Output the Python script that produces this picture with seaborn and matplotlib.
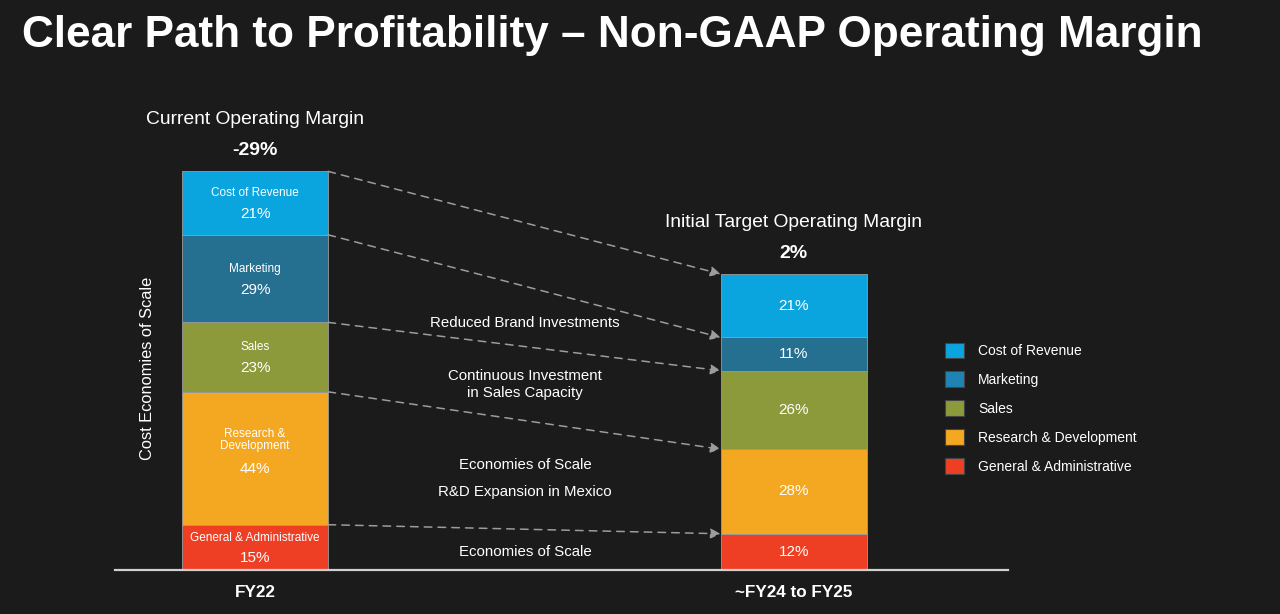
import matplotlib
matplotlib.use("Agg")
import matplotlib.pyplot as plt
from matplotlib.patches import Patch
import seaborn as sns
import pandas as pd
import numpy as np

# Chart data
periods = ["FY22", "~FY24 to FY25"]
categories = ["General & Administrative", "Research & Development", "Sales", "Marketing", "Cost of Revenue"]
fy22_values = [15, 44, 23, 29, 21]
target_values = [12, 28, 26, 11, 21]
inner_names = ["General & Administrative", "Research &\nDevelopment", "Sales", "Marketing", "Cost of Revenue"]
margin_titles = ["Current Operating Margin", "Initial Target Operating Margin"]
margin_values = ["-29%", "2%"]
notes = ["Reduced Brand Investments", "Continuous Investment\nin Sales Capacity",
         "Economies of Scale", "R&D Expansion in Mexico", "Economies of Scale"]
note_y = [81.8, 61.4, 34.8, 25.8, 6.0]

colors = {
    "General & Administrative": "#ee3f24",
    "Research & Development": "#f4a720",
    "Sales": "#8c9a3c",
    "Marketing": "#256f91",
    "Cost of Revenue": "#0aa5de",
}
legend_colors = {
    "Cost of Revenue": "#0aa5de",
    "Marketing": "#1f84b3",
    "Sales": "#8c9a3c",
    "Research & Development": "#f4a720",
    "General & Administrative": "#ee3f24",
}

BG = "#1b1b1b"
FG = "white"

sns.set_theme(style="dark")
plt.rcParams["font.family"] = ["Liberation Sans", "DejaVu Sans"]

# long table with stacking offsets
rows = []
for p, vals in zip(periods, [fy22_values, target_values]):
    bottom = 0
    for c, v in zip(categories, vals):
        rows.append({"period": p, "category": c, "value": v, "bottom": bottom})
        bottom += v
df = pd.DataFrame(rows)

fig = plt.figure(figsize=(12.8, 6.14), dpi=100, facecolor=BG)
ax = fig.add_axes([115 / 1280, 44 / 614, 893 / 1280, 470 / 614])
ax.set_facecolor(BG)

bar_w = 0.271
for c in categories:
    sub = df[df["category"] == c]
    sns.barplot(data=sub, x="period", y="value", order=periods, bottom=sub["bottom"].values,
                color=colors[c], saturation=1, errorbar=None, width=bar_w,
                edgecolor="#9a9a9a", linewidth=0.6, ax=ax)

ax.set_xlim(-0.26, 1.398)
ax.set_ylim(0, 470 / 3.02)
ax.set_xlabel("")
ax.set_ylabel("")
ax.set_yticks([])
ax.tick_params(axis="x", length=0, pad=11)
ax.set_xticks(range(len(periods)))
ax.set_xticklabels(periods, color=FG, fontsize=12.3, fontweight="bold")
for s in ["top", "right", "left"]:
    ax.spines[s].set_visible(False)
ax.spines["bottom"].set_color("#d0d0d0")
ax.spines["bottom"].set_linewidth(1.6)

# labels inside the bars
fy22 = df[df["period"] == periods[0]].reset_index(drop=True)
for i, r in fy22.iterrows():
    mid = r["bottom"] + r["value"] / 2
    name_off = 7 + 6 * inner_names[i].count("\n")
    ax.annotate(inner_names[i], (0, mid), xytext=(0, name_off), textcoords="offset points",
                ha="center", va="center", color=FG, fontsize=8.5, linespacing=1.05)
    ax.annotate(f"{r['value']}%", (0, mid), xytext=(0, -8), textcoords="offset points",
                ha="center", va="center", color=FG, fontsize=11)

tgt = df[df["period"] == periods[1]].reset_index(drop=True)
for i, r in tgt.iterrows():
    mid = r["bottom"] + r["value"] / 2
    ax.text(1, mid, f"{r['value']}%", ha="center", va="center", color=FG, fontsize=11)

# headers above the bars
totals = [sum(fy22_values), sum(target_values)]
for i in range(2):
    ax.annotate(margin_values[i], (i, totals[i]), xytext=(0, 15), textcoords="offset points",
                ha="center", va="center", color=FG, fontsize=14, fontweight="bold")
    ax.annotate(margin_titles[i], (i, totals[i]), xytext=(0, 37), textcoords="offset points",
                ha="center", va="center", color=FG, fontsize=13.9)

# dashed connectors between segment tops
left_tops = np.cumsum(fy22_values)
right_tops = np.cumsum(target_values)
for lt, rt in zip(left_tops, right_tops):
    ax.annotate("", xy=(1 - bar_w / 2, rt), xytext=(bar_w / 2, lt),
                arrowprops=dict(arrowstyle="-|>", linestyle=(0, (5, 4)), color="#9c9c9c",
                                lw=1.1, shrinkA=0, shrinkB=0, mutation_scale=15))

# notes in the middle
for t, y in zip(notes, note_y):
    ax.text(0.501, y, t, ha="center", va="center", color=FG, fontsize=10.8, linespacing=1.3)

fig.text(148 / 1280, 1 - 368 / 614, "Cost Economies of Scale",
         rotation=90, ha="center", va="center", color=FG, fontsize=11.8)

fig.text(22 / 1280, 1 - 36 / 614, "Clear Path to Profitability \u2013 Non-GAAP Operating Margin",
         ha="left", va="center", color=FG, fontsize=31.8, fontweight="bold")

handles = [Patch(facecolor=legend_colors[c], edgecolor="#444444", linewidth=0.8) for c in legend_colors]
leg = fig.legend(handles, list(legend_colors.keys()), loc="upper left",
                 bbox_to_anchor=(932 / 1280, 1 - 330 / 614), frameon=False, fontsize=10,
                 handlelength=1.37, handleheight=1.37, handletextpad=1.05, labelspacing=0.95)
for t in leg.get_texts():
    t.set_color(FG)

fig.savefig("out.png", dpi=100, facecolor=BG)
